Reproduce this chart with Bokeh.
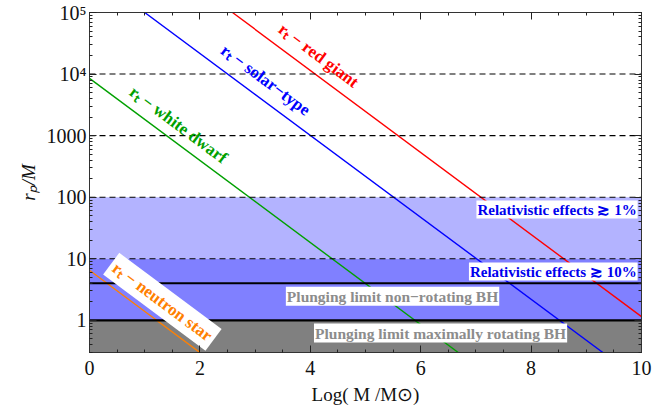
import math
from bokeh.plotting import figure
from bokeh.models import (FixedTicker, LinearAxis, LogAxis, Range1d, CustomLabelingPolicy)
from bokeh.core.properties import value
from bokeh.embed import file_html
from bokeh.resources import INLINE

# ---------------- data ----------------
x_min, x_max = 0.0, 10.0
y_min, y_max = 0.3, 1e5

# shaded bands (bottom, top, colour)
band_bottom = [10, 1, 0.3]
band_top = [100, 10, 1]
band_color = ["#b3b3ff", "#8080ff", "#808080"]

# dashed reference levels and solid plunging limits
dashed_levels = [1e4, 1e3, 100, 10]
solid_levels = [4, 1]

# tidal radius lines (end points)
rg_x = [2.59, 10.0]; rg_y = [1e5, 1.15]        # red giant
st_x = [1.0, 9.3];   st_y = [1e5, 0.3]         # solar-type
wd_x = [0.0, 6.68];  wd_y = [8500, 0.3]        # white dwarf
ns_x = [0.0, 2.0];   ns_y = [6.5, 0.3]         # neutron star

# rotated labels of the lines
line_lab_text = ["rₜ − red giant", "rₜ − solar−type", "rₜ − white dwarf", "rₜ − neutron star"]
line_lab_x = [4.15, 3.19, 1.61, 1.32]
line_lab_y = [2.0e4, 8000, 1500, 2.0]
line_lab_col = ["#ff0000", "#0000ff", "#00a000", "#ff8000"]
line_lab_bg = [None, None, None, "white"]

# region labels
rel_text = ["Relativistic effects ≳ 1%", "Relativistic effects ≳ 10%"]
rel_x = [9.93, 9.93]
rel_y = [63, 6.2]
plunge_text = ["Plunging limit non−rotating BH", "Plunging limit maximally rotating BH"]
plunge_x = [5.49, 6.36]
plunge_y = [2.45, 0.62]

x_ticks = [0, 2, 4, 6, 8, 10]
y_ticks = [1, 10, 100, 1000, 1e4, 1e5]
y_tick_labels = ["1", "10", "100", "1000", "10⁴", "10⁵"]

# ---------------- figure ----------------
SERIF = "'Liberation Serif', 'Times New Roman', serif"

p = figure(width=660, height=410, y_axis_type="log",
           x_range=Range1d(x_min, x_max), y_range=Range1d(y_min, y_max),
           output_backend="svg", toolbar_location=None,
           min_border_left=89, min_border_right=19, min_border_top=12, min_border_bottom=58)
p.grid.visible = False
p.outline_line_color = "#333333"
p.background_fill_color = "white"

# bands
p.quad(left=[x_min] * 3, right=[x_max] * 3, bottom=band_bottom, top=band_top,
       fill_color=band_color, line_color=None)

# tidal lines
p.line(rg_x, rg_y, line_color="#ff0000", line_width=1.4)
p.line(st_x, st_y, line_color="#0000ff", line_width=1.4)
p.line(wd_x, wd_y, line_color="#00a000", line_width=1.4)
p.line(ns_x, ns_y, line_color="#ff8000", line_width=1.4)

# horizontal lines
for lv in dashed_levels:
    p.line([x_min, x_max], [lv, lv], line_color="black", line_width=1.1, line_dash="6 4")
for lv in solid_levels:
    p.line([x_min, x_max], [lv, lv], line_color="black", line_width=2.2)

# slope angle of the lines on screen: -2/3 decade per unit
ang = -math.atan((2.0 / 3.0 * 61.7) / 55.2)

for i in range(4):
    kw = {}
    if line_lab_bg[i]:
        kw = dict(background_fill_color=line_lab_bg[i], padding=4)
    p.text(x=[line_lab_x[i]], y=[line_lab_y[i]], text=[line_lab_text[i]],
           angle=ang, text_align="center", text_baseline="middle",
           text_font=value(SERIF), text_font_style="bold", text_font_size="17px",
           text_color=line_lab_col[i], **kw)

p.text(x=rel_x, y=rel_y, text=rel_text, text_align="right", text_baseline="middle",
       text_font=value(SERIF), text_font_style="bold", text_font_size="15px",
       text_color="#0000ee", background_fill_color="white", padding=1)
p.text(x=plunge_x, y=plunge_y, text=plunge_text, text_align="center", text_baseline="middle",
       text_font=value(SERIF), text_font_style="bold", text_font_size="15.5px",
       text_color="#8c8c8c", background_fill_color="white", padding=1)

# ---------------- axes ----------------
def style(ax):
    ax.axis_line_color = "#333333"
    ax.major_tick_in = 7
    ax.major_tick_out = 0
    ax.minor_tick_in = 3
    ax.minor_tick_out = 0
    ax.major_tick_line_color = "#222222"
    ax.minor_tick_line_color = "#222222"
    ax.major_label_text_font = SERIF
    ax.major_label_text_font_size = "20px"
    ax.major_label_text_color = "#111111"
    ax.axis_label_text_font = SERIF
    ax.axis_label_text_font_size = "19px"
    ax.axis_label_text_font_style = "normal"
    ax.axis_label_text_color = "#111111"

x_minor = [0.5 * k for k in range(0, 21)]
y_minor = []
for d in range(-1, 5):
    for m in range(2, 10):
        v = m * 10 ** d
        if y_min <= v <= y_max:
            y_minor.append(v)

p.xaxis.ticker = FixedTicker(ticks=x_ticks, minor_ticks=x_minor)
p.yaxis.ticker = FixedTicker(ticks=y_ticks, minor_ticks=y_minor)
style(p.xaxis[0]); style(p.yaxis[0])
p.xaxis.axis_label = "Log( M /M⊙)"
p.yaxis.axis_label = "rₚ/M"
p.yaxis.axis_label_text_font_style = "italic"
p.yaxis.major_label_overrides = {t: l for t, l in zip(y_ticks, y_tick_labels)}
p.xaxis.major_label_standoff = 8
p.xaxis.axis_label_standoff = 6
p.yaxis.major_label_standoff = 3

hide_all = CustomLabelingPolicy(code="""
const all = [...indices];
for (const i of all) indices.unset(i);
return indices;
""")

top = LinearAxis(ticker=FixedTicker(ticks=x_ticks, minor_ticks=x_minor))
right = LogAxis(ticker=FixedTicker(ticks=y_ticks, minor_ticks=y_minor))
for ax in (top, right):
    style(ax)
    ax.major_label_text_font_size = "1px"
    ax.major_label_standoff = 0
    ax.major_label_policy = hide_all
p.add_layout(top, "above")
p.add_layout(right, "right")

open("out.html", "w").write(file_html(p, INLINE))
